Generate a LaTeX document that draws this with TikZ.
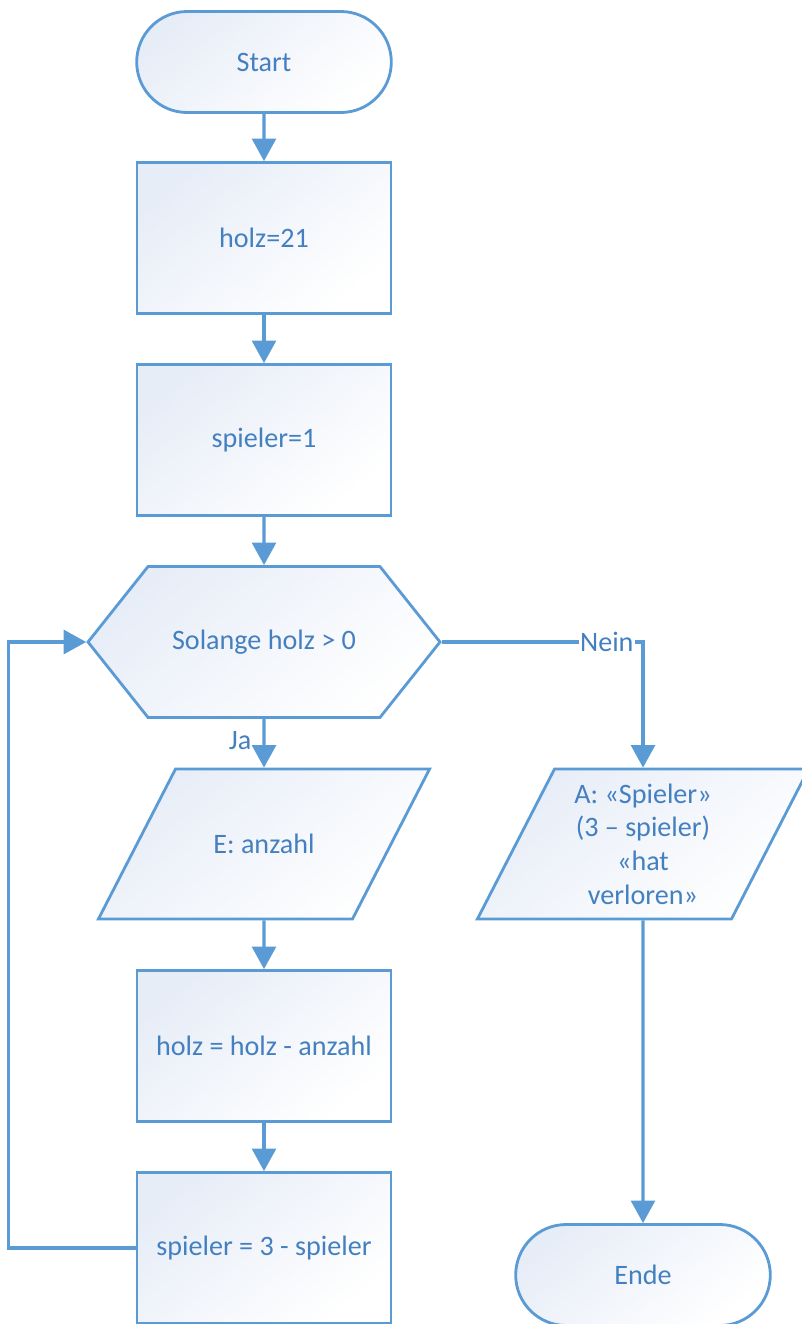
\documentclass[tikz,border=0pt]{standalone}
\usepackage{fontspec}
\setmainfont{Carlito}
\usepackage{tikz}
\usetikzlibrary{positioning,arrows.meta,shapes.misc,shapes.geometric,shapes.symbols}

\definecolor{linie}{RGB}{91,155,213}
\definecolor{schrift}{RGB}{68,128,192}
\definecolor{flaeche}{RGB}{231,237,247}

% fester Textkasten fuer die Parallelogramme
\newcommand{\kasten}[1]{\parbox[c][3.75cm][c]{4.425cm}{\centering #1}}

\tikzset{
    basis/.style={draw=linie, line width=2pt, text=schrift, top color=flaeche, bottom color=white, shading angle=40, font=\fontsize{20}{24}\selectfont, align=center},
    terminal/.style={basis, rounded rectangle, minimum width=6.6cm, minimum height=2.525cm},
    anweisung/.style={basis, rectangle, minimum width=6.35cm, minimum height=3.775cm},
    schleife/.style={basis, signal, signal to=west and east, signal pointer angle=103, minimum width=8.8cm, minimum height=3.775cm},
    einaus/.style={basis, trapezium, trapezium left angle=62.8, trapezium right angle=117.2, inner sep=0pt},
    pfeil/.style={draw=linie, line width=2.2pt, -{Triangle[length=16pt,width=17pt]}},
    marke/.style={text=schrift, font=\fontsize{20}{24}\selectfont, fill=white, inner sep=1pt}
}

\begin{document}
\begin{tikzpicture}[node distance=5.05cm, on grid]

    \useasboundingbox (0,0) rectangle (20.025,-33.1);

    \node[terminal] (start) at (6.6,-1.55) {Start};
    \node[anweisung] (holz) [below=4.4cm of start] {holz=21};
    \node[anweisung] (spieler) [below=of holz] {spieler=1};
    \node[schleife] (solange) [below=of spieler] {Solange holz > 0};
    \node[einaus] (eingabe) [below=of solange] {\kasten{E: anzahl}};
    \node[anweisung] (abzug) [below=of eingabe] {holz = holz - anzahl};
    \node[anweisung] (wechsel) [below=of abzug] {spieler = 3 - spieler};
    \node[einaus] (ausgabe) [right=9.475cm of eingabe] {\kasten{A: «Spieler»\\(3 – spieler)\\«hat\\verloren»}};
    \node[terminal] (ende) [below=10.775cm of ausgabe] {Ende};

    \path[every edge/.style={pfeil}]
        (start) edge (holz)
        (holz) edge (spieler)
        (spieler) edge (solange)
        (solange) edge node[marke, left=7pt, pos=0.45, fill=none] {Ja} (eingabe)
        (eingabe) edge (abzug)
        (abzug) edge (wechsel)
        (ausgabe) edge (ende);

    \draw[pfeil] (solange.east) -| node[marke, pos=0.41] {Nein} (ausgabe.north);
    \draw[pfeil] (wechsel.west) -- ++(-3.175,0) |- (solange.west);

\end{tikzpicture}
\end{document}
